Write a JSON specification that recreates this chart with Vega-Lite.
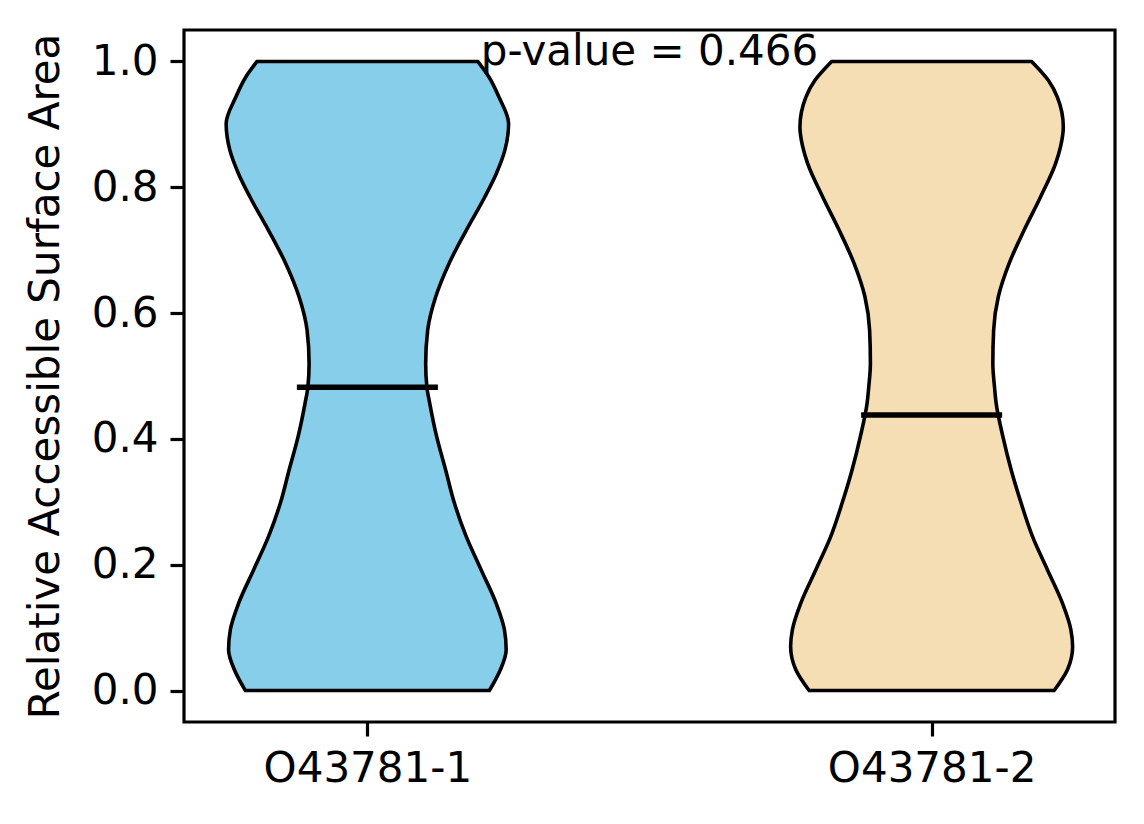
{
  "$schema": "https://vega.github.io/schema/vega-lite/v6.json",
  "description": "Violin plot of relative accessible surface area for two isoforms",
  "width": 931,
  "height": 692,
  "autosize": {"type": "none"},
  "padding": {"left": 184, "top": 30, "right": 29, "bottom": 102},
  "background": "white",
  "config": {
    "font": "DejaVu Sans",
    "view": {"stroke": "black", "strokeWidth": 3.2},
    "axis": {
      "grid": false,
      "domain": false,
      "labelFont": "DejaVu Sans",
      "labelFontSize": 42,
      "labelColor": "black",
      "labelLimit": 0,
      "tickColor": "black",
      "tickSize": 14,
      "tickWidth": 3.2,
      "labelPadding": 12,
      "titleFont": "DejaVu Sans",
      "titleFontSize": 42,
      "titleFontWeight": "normal",
      "titleColor": "black"
    }
  },
  "datasets": {
    "outline": [
      {"isoform": "O43781-1", "y": 1.0, "lo": 0.8045, "hi": 1.1955},
      {"isoform": "O43781-1", "y": 0.975, "lo": 0.7843, "hi": 1.2157},
      {"isoform": "O43781-1", "y": 0.943, "lo": 0.7666, "hi": 1.2334},
      {"isoform": "O43781-1", "y": 0.901, "lo": 0.7497, "hi": 1.2503},
      {"isoform": "O43781-1", "y": 0.859, "lo": 0.7563, "hi": 1.2437},
      {"isoform": "O43781-1", "y": 0.822, "lo": 0.7714, "hi": 1.2286},
      {"isoform": "O43781-1", "y": 0.785, "lo": 0.7917, "hi": 1.2083},
      {"isoform": "O43781-1", "y": 0.732, "lo": 0.8245, "hi": 1.1755},
      {"isoform": "O43781-1", "y": 0.679, "lo": 0.8552, "hi": 1.1448},
      {"isoform": "O43781-1", "y": 0.626, "lo": 0.8789, "hi": 1.1211},
      {"isoform": "O43781-1", "y": 0.573, "lo": 0.8931, "hi": 1.1069},
      {"isoform": "O43781-1", "y": 0.52, "lo": 0.8967, "hi": 1.1033},
      {"isoform": "O43781-1", "y": 0.482, "lo": 0.8945, "hi": 1.1055},
      {"isoform": "O43781-1", "y": 0.457, "lo": 0.8896, "hi": 1.1104},
      {"isoform": "O43781-1", "y": 0.404, "lo": 0.8773, "hi": 1.1227},
      {"isoform": "O43781-1", "y": 0.351, "lo": 0.8614, "hi": 1.1386},
      {"isoform": "O43781-1", "y": 0.298, "lo": 0.8458, "hi": 1.1542},
      {"isoform": "O43781-1", "y": 0.245, "lo": 0.8249, "hi": 1.1751},
      {"isoform": "O43781-1", "y": 0.192, "lo": 0.7985, "hi": 1.2015},
      {"isoform": "O43781-1", "y": 0.139, "lo": 0.7719, "hi": 1.2281},
      {"isoform": "O43781-1", "y": 0.097, "lo": 0.7572, "hi": 1.2428},
      {"isoform": "O43781-1", "y": 0.065, "lo": 0.754, "hi": 1.246},
      {"isoform": "O43781-1", "y": 0.033, "lo": 0.7643, "hi": 1.2357},
      {"isoform": "O43781-1", "y": 0.0, "lo": 0.7838, "hi": 1.2162},
      {"isoform": "O43781-2", "y": 1.0, "lo": 1.8228, "hi": 2.1772},
      {"isoform": "O43781-2", "y": 0.97, "lo": 1.7932, "hi": 2.2068},
      {"isoform": "O43781-2", "y": 0.943, "lo": 1.777, "hi": 2.223},
      {"isoform": "O43781-2", "y": 0.896, "lo": 1.7666, "hi": 2.2334},
      {"isoform": "O43781-2", "y": 0.865, "lo": 1.7714, "hi": 2.2286},
      {"isoform": "O43781-2", "y": 0.838, "lo": 1.7802, "hi": 2.2198},
      {"isoform": "O43781-2", "y": 0.785, "lo": 1.8068, "hi": 2.1932},
      {"isoform": "O43781-2", "y": 0.732, "lo": 1.836, "hi": 2.164},
      {"isoform": "O43781-2", "y": 0.679, "lo": 1.8626, "hi": 2.1374},
      {"isoform": "O43781-2", "y": 0.626, "lo": 1.8818, "hi": 2.1182},
      {"isoform": "O43781-2", "y": 0.573, "lo": 1.8901, "hi": 2.1099},
      {"isoform": "O43781-2", "y": 0.52, "lo": 1.8915, "hi": 2.1085},
      {"isoform": "O43781-2", "y": 0.48, "lo": 1.8883, "hi": 2.1117},
      {"isoform": "O43781-2", "y": 0.457, "lo": 1.8857, "hi": 2.1143},
      {"isoform": "O43781-2", "y": 0.404, "lo": 1.8738, "hi": 2.1262},
      {"isoform": "O43781-2", "y": 0.351, "lo": 1.8591, "hi": 2.1409},
      {"isoform": "O43781-2", "y": 0.298, "lo": 1.8414, "hi": 2.1586},
      {"isoform": "O43781-2", "y": 0.245, "lo": 1.8213, "hi": 2.1787},
      {"isoform": "O43781-2", "y": 0.192, "lo": 1.7948, "hi": 2.2052},
      {"isoform": "O43781-2", "y": 0.139, "lo": 1.7682, "hi": 2.2318},
      {"isoform": "O43781-2", "y": 0.097, "lo": 1.7533, "hi": 2.2467},
      {"isoform": "O43781-2", "y": 0.07, "lo": 1.7501, "hi": 2.2499},
      {"isoform": "O43781-2", "y": 0.033, "lo": 1.7593, "hi": 2.2407},
      {"isoform": "O43781-2", "y": 0.0, "lo": 1.7829, "hi": 2.2171}
    ],
    "medians": [
      {"isoform": "O43781-1", "median": 0.482, "lo": 0.875, "hi": 1.125},
      {"isoform": "O43781-2", "median": 0.438, "lo": 1.875, "hi": 2.125}
    ],
    "note": [
      {"pos": 1.5, "y": 0.994, "label": "p-value = 0.466"}
    ]
  },
  "encoding": {
    "x": {
      "type": "quantitative",
      "scale": {"domain": [0.675, 2.325], "nice": false, "zero": false},
      "axis": {
        "title": null,
        "values": [1, 2],
        "labelExpr": "datum.value == 1 ? 'O43781-1' : 'O43781-2'"
      }
    },
    "y": {
      "type": "quantitative",
      "scale": {"domain": [-0.05, 1.05], "nice": false, "zero": false},
      "axis": {
        "title": "Relative Accessible Surface Area",
        "values": [0, 0.2, 0.4, 0.6, 0.8, 1.0],
        "format": ".1f",
        "titlePadding": 24
      }
    }
  },
  "layer": [
    {
      "data": {"name": "outline"},
      "mark": {
        "type": "area",
        "orient": "horizontal",
        "interpolate": "monotone",
        "stroke": "black",
        "strokeWidth": 3.6,
        "fillOpacity": 1
      },
      "encoding": {
        "y": {"field": "y", "type": "quantitative"},
        "x": {"field": "lo", "type": "quantitative"},
        "x2": {"field": "hi"},
        "color": {
          "field": "isoform",
          "type": "nominal",
          "scale": {"domain": ["O43781-1", "O43781-2"], "range": ["#87CEEB", "#F5DEB3"]},
          "legend": null
        }
      }
    },
    {
      "data": {"name": "medians"},
      "mark": {"type": "rule", "color": "black", "strokeWidth": 5.5},
      "encoding": {
        "y": {"field": "median", "type": "quantitative"},
        "x": {"field": "lo", "type": "quantitative"},
        "x2": {"field": "hi"}
      }
    },
    {
      "data": {"name": "note"},
      "mark": {
        "type": "text",
        "font": "DejaVu Sans",
        "fontSize": 42,
        "color": "black",
        "align": "center",
        "baseline": "alphabetic"
      },
      "encoding": {
        "x": {"field": "pos", "type": "quantitative"},
        "y": {"field": "y", "type": "quantitative"},
        "text": {"field": "label"}
      }
    }
  ]
}
